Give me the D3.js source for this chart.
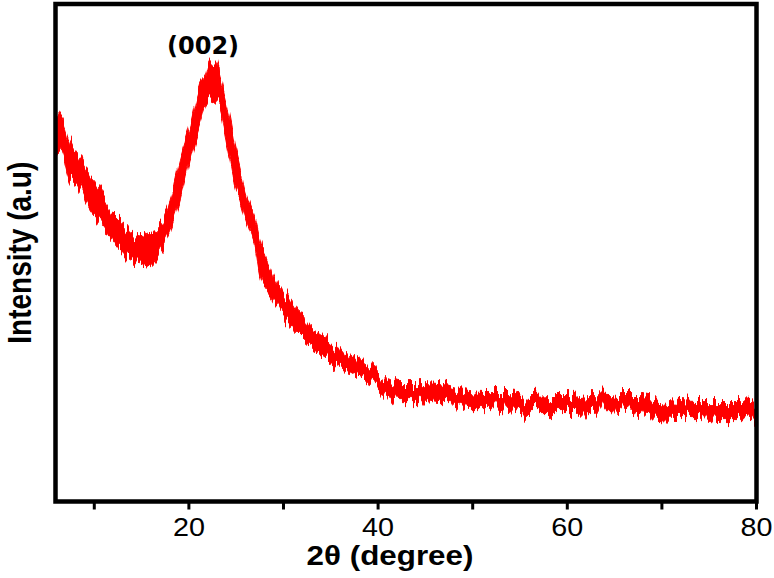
<!DOCTYPE html>
<html>
<head>
<meta charset="utf-8">
<script src="https://cdn.jsdelivr.net/npm/d3@7"></script>
<style>
  body { margin: 0; background: #fff; }
  svg { display: block; }
  .tick-label { font-family: "Liberation Sans", Arial, sans-serif; font-size: 25px; fill: #000; }
  .axis-title { font-family: "Liberation Sans", Arial, sans-serif; font-weight: bold; fill: #000; }
  .peak-label { font-family: "DejaVu Sans", sans-serif; font-weight: bold; font-size: 24px; fill: #000; }
</style>
</head>
<body>
<svg id="chart" width="774" height="578"></svg>
<script>
// XRD scan: lower and upper edge of the noisy red trace (a.u.)
var twoTheta = [5.9, 6.7, 7.4, 8.5, 9.5, 10.6, 11.7, 12.7, 13.8, 14.8, 15.9, 16.9, 18.0, 19.1, 20.1,
  21.2, 21.7, 22.2, 22.8, 23.3, 23.8, 24.3, 24.9, 25.4, 25.9, 26.5, 27.0, 27.5, 28.6, 29.6,
  30.7, 31.7, 32.8, 33.9, 34.9, 36.0, 37.0, 38.1, 39.1, 40.2, 41.3, 42.3, 44.4, 46.5, 47.6,
  49.7, 51.8, 53.9, 56.1, 58.2, 60.3, 62.4, 64.5, 65.6, 67.7, 69.8, 72.0, 74.1, 76.2, 78.3, 80.0];
var upper = [392, 379, 359, 342, 325, 312, 292, 282, 269, 265, 269, 275, 297, 342, 375,
  419, 425, 439, 439, 425, 405, 385, 355, 335, 312, 295, 282, 262, 234, 212,
  202, 187, 175, 169, 162, 152, 149, 142, 135, 127, 122, 119, 119, 118, 115,
  110, 109, 109, 104, 105, 105, 107, 106, 105, 105, 102, 100, 99, 99, 99, 97];
var lower = [352, 345, 322, 312, 292, 279, 265, 252, 242, 239, 235, 249, 270, 302, 342,
  379, 395, 402, 399, 392, 369, 345, 315, 302, 285, 269, 255, 227, 207, 190,
  175, 164, 155, 149, 142, 135, 132, 125, 119, 112, 105, 102, 102, 99, 99,
  94, 94, 92, 89, 89, 89, 90, 91, 90, 87, 85, 84, 84, 82, 82, 80];

var majorTicks = [20, 40, 60, 80];
var minorTicks = [10, 30, 50, 70];
var peakLabel = "(002)", peakAt = 21.5;
var xTitle = "2\u03b8 (degree)", yTitle = "Intensity (a.u)";

var svg = d3.select("#chart"),
    margin = {top: 4, right: 17.5, bottom: 76.5, left: 55.5},
    width = 774 - margin.left - margin.right,
    height = 578 - margin.top - margin.bottom;

var x = d3.scaleLinear().domain([5.9, 80]).range([0, width]);
var y = d3.scaleLinear().domain([0, 498]).range([height, 0]);

var rows = twoTheta.map(function(t, i) { return {t: t, hi: upper[i], lo: lower[i]}; });

var defs = svg.append("defs");
defs.append("clipPath").attr("id", "plot-clip")
  .append("rect").attr("width", width).attr("height", height);

// texture only: shakes each pixel column up/down so the band edges look like a noisy scan
var f = defs.append("filter").attr("id", "jitter")
  .attr("filterUnits", "userSpaceOnUse")
  .attr("x", -10).attr("y", -10).attr("width", width + 20).attr("height", height + 20)
  .attr("color-interpolation-filters", "sRGB");
f.append("feTurbulence").attr("type", "fractalNoise")
  .attr("baseFrequency", "0.32 0.004").attr("numOctaves", 2).attr("seed", 7)
  .attr("result", "noise");
f.append("feColorMatrix").attr("in", "noise").attr("type", "matrix")
  .attr("values", "0 0 0 0 0.5  0 1 0 0 0  0 0 1 0 0  0 0 0 0 1")
  .attr("result", "map");
f.append("feDisplacementMap").attr("in", "SourceGraphic").attr("in2", "map")
  .attr("scale", 28).attr("xChannelSelector", "R").attr("yChannelSelector", "G");

var g = svg.append("g")
  .attr("transform", "translate(" + margin.left + "," + margin.top + ")");

var band = d3.area()
  .x(function(d) { return x(d.t); })
  .y0(function(d) { return y(d.lo); })
  .y1(function(d) { return y(d.hi); })
  .curve(d3.curveMonotoneX);

g.append("g").attr("clip-path", "url(#plot-clip)")
  .append("path")
  .datum(rows)
  .attr("d", band)
  .attr("fill", "#ff0000")
  .attr("stroke", "#ff0000")
  .attr("stroke-width", 1)
  .attr("filter", "url(#jitter)");

// frame
g.append("rect")
  .attr("width", width).attr("height", height)
  .attr("fill", "none").attr("stroke", "#000").attr("stroke-width", 4.5);

// bottom ticks, pointing out
g.selectAll(".tk")
  .data(majorTicks.concat(minorTicks))
  .enter().append("line")
  .attr("class", "tk")
  .attr("x1", function(d) { return x(d); })
  .attr("x2", function(d) { return x(d); })
  .attr("y1", height)
  .attr("y2", height + 8)
  .attr("stroke", "#000").attr("stroke-width", 3);

g.selectAll(".tick-label")
  .data(majorTicks)
  .enter().append("text")
  .attr("class", "tick-label")
  .attr("text-anchor", "middle")
  .attr("transform", function(d) { return "translate(" + x(d) + "," + (height + 34) + ") scale(1.15,1)"; })
  .text(function(d) { return d; });

g.append("text")
  .attr("class", "axis-title")
  .attr("text-anchor", "middle")
  .style("font-size", "28px")
  .attr("transform", "translate(" + (width / 2 - 16) + "," + (height + 63) + ") scale(1.12,1)")
  .text(xTitle);

g.append("text")
  .attr("class", "axis-title")
  .attr("text-anchor", "middle")
  .style("font-size", "28px")
  .attr("transform", "translate(" + (-25) + "," + (height / 2) + ") rotate(-90) scale(1,1.2)")
  .text(yTitle);

g.append("text")
  .attr("class", "peak-label")
  .attr("text-anchor", "middle")
  .attr("x", x(peakAt))
  .attr("y", y(d3.max(upper)) - 9)
  .text(peakLabel);
</script>
</body>
</html>
